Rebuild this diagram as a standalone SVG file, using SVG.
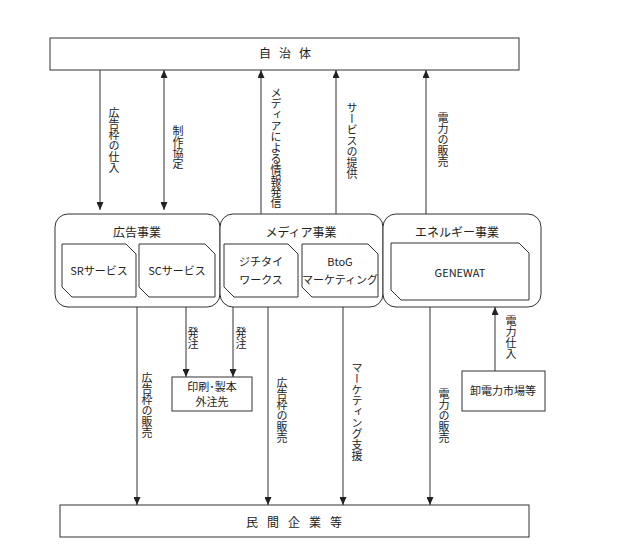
<svg xmlns="http://www.w3.org/2000/svg" width="630" height="560" viewBox="0 0 630 560">
<style>
text{font-family:"Noto Sans CJK JP","Liberation Sans",sans-serif;fill:#222;}
.t{font-size:11px;}
.v{font-size:11px;writing-mode:vertical-rl;}
.h{font-size:12px;text-anchor:middle;}
.c{font-size:11px;text-anchor:middle;}
.box{fill:#fff;stroke:#333;stroke-width:1;}
.ln{stroke:#333;stroke-width:1;fill:none;}
</style>
<defs>
<marker id="ah" markerWidth="8" markerHeight="7" refX="8" refY="3.5" orient="auto-start-reverse" markerUnits="userSpaceOnUse">
<path d="M0,0 L8,3.5 L0,7 z" fill="#222"/>
</marker>
</defs>
<rect width="630" height="560" fill="#fff"/>
<g id="jichitai">
<rect class="box" x="50" y="38" width="469" height="32"/>
<text class="h" x="265 285 305" y="58">自治体</text>
</g>
<g id="minkan">
<rect class="box" x="60" y="505" width="469" height="32"/>
<text class="h" x="252 273 294 315 336" y="527">民間企業等</text>
</g>
<g id="koukoku">
<rect class="box" x="55" y="214" width="165" height="93" rx="13"/>
<text class="h" x="137" y="237">広告事業</text>
</g>
<g id="sr">
<path class="box" d="M62,244 H126 L136,254 V297 H72 L62,287 Z"/>
<text class="c" x="99" y="275">SRサービス</text>
</g>
<g id="sc">
<path class="box" d="M139,244 H205 L215,254 V297 H149 L139,287 Z"/>
<text class="c" x="177" y="275">SCサービス</text>
</g>
<g id="media">
<rect class="box" x="220" y="214" width="163" height="93" rx="13"/>
<text class="h" x="301" y="237">メディア事業</text>
</g>
<g id="jw">
<path class="box" d="M224,244 H288 L298,254 V297 H234 L224,287 Z"/>
<text class="c" x="261" y="266">ジチタイ</text>
<text class="c" x="261" y="284">ワークス</text>
</g>
<g id="btog">
<path class="box" d="M302,244 H368 L378,254 V297 H312 L302,287 Z"/>
<text class="c" x="340" y="266">BtoG</text>
<text class="c" x="340" y="284">マーケティング</text>
</g>
<g id="energy">
<rect class="box" x="383" y="214" width="158" height="93" rx="13"/>
<text class="h" x="457" y="237">エネルギー事業</text>
</g>
<g id="genewat">
<path class="box" d="M391,243 H519 L529,253 V300 H401 L391,290 Z"/>
<text class="c" x="460" y="277">GENEWAT</text>
</g>
<g id="insatsu">
<rect class="box" x="172" y="377" width="80" height="34"/>
<text class="c" x="212" y="391">印刷･製本</text>
<text class="c" x="212" y="406">外注先</text>
</g>
<g id="oroshi">
<rect class="box" x="462" y="371" width="83" height="40"/>
<text class="c" x="503" y="395">卸電力市場等</text>
</g>
<g id="connectors">
<line class="ln" x1="100" y1="70" x2="100" y2="210" marker-end="url(#ah)"/>
<line class="ln" x1="164" y1="70" x2="164" y2="210" marker-start="url(#ah)" marker-end="url(#ah)"/>
<line class="ln" x1="261" y1="214" x2="261" y2="70" marker-end="url(#ah)"/>
<line class="ln" x1="336" y1="214" x2="336" y2="70" marker-end="url(#ah)"/>
<line class="ln" x1="426" y1="214" x2="426" y2="70" marker-end="url(#ah)"/>
<line class="ln" x1="137" y1="307" x2="137" y2="505" marker-end="url(#ah)"/>
<line class="ln" x1="186" y1="307" x2="186" y2="377" marker-end="url(#ah)"/>
<line class="ln" x1="233" y1="307" x2="233" y2="377" marker-end="url(#ah)"/>
<line class="ln" x1="268" y1="307" x2="268" y2="505" marker-end="url(#ah)"/>
<line class="ln" x1="343" y1="307" x2="343" y2="505" marker-end="url(#ah)"/>
<line class="ln" x1="430" y1="307" x2="430" y2="505" marker-end="url(#ah)"/>
<line class="ln" x1="495" y1="371" x2="495" y2="307" marker-end="url(#ah)"/>
<text class="v" x="114" y="107">広告枠の仕入</text>
<text class="v" x="178" y="125">制作協定</text>
<text class="v" x="276" y="87">メディアによる情報発信</text>
<text class="v" x="352" y="102">サービスの提供</text>
<text class="v" x="443" y="112">電力の販売</text>
<text class="v" x="193" y="327">発注</text>
<text class="v" x="241" y="327">発注</text>
<text class="v" x="147" y="372">広告枠の販売</text>
<text class="v" x="282" y="377">広告枠の販売</text>
<text class="v" x="357" y="362">マーケティング支援</text>
<text class="v" x="511" y="315">電力仕入</text>
<text class="v" x="444" y="388">電力の販売</text>
</g>
</svg>
